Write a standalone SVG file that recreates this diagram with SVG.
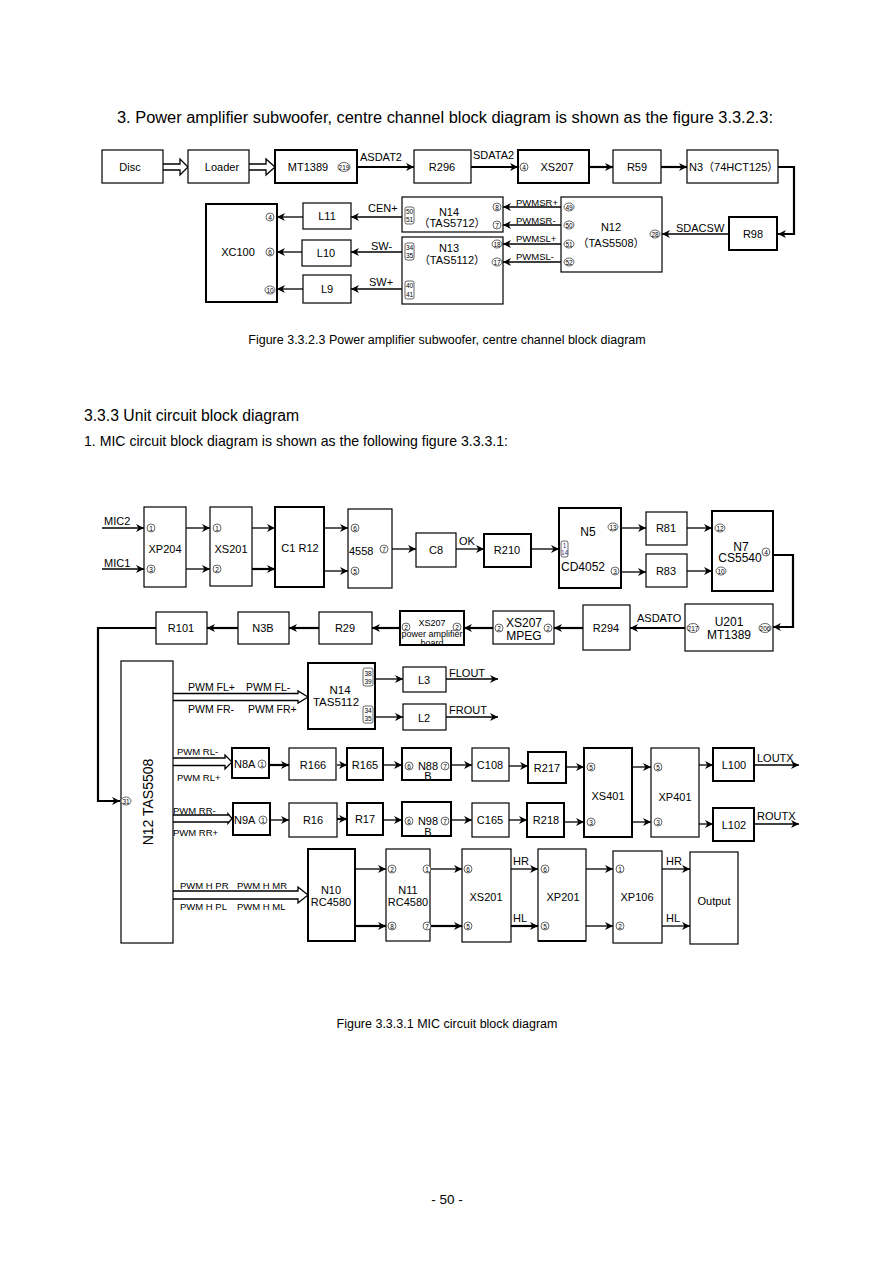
<svg xmlns="http://www.w3.org/2000/svg" width="894" height="1263" viewBox="0 0 894 1263">
<defs>
<style>
text{font-family:"Liberation Sans",Arial,"Noto Sans CJK SC",sans-serif;fill:#000}
.t{font-size:11px;text-anchor:middle}
.l{font-size:11px}
.s{font-size:9.5px}
.b{fill:#fff;stroke:#000;stroke-width:1.2}
.bt{fill:#fff;stroke:#000;stroke-width:2}
.c path,.c line{fill:none;stroke:#000;stroke-width:1.3}
.c .k{stroke-width:2.2}
.h{fill:#fff;stroke:#000;stroke-width:1.1}
.pin ellipse,.pb{fill:#fff;stroke:#000;stroke-width:0.6}
.pin text{font-size:6.5px;text-anchor:middle}
</style>
<marker id="a" viewBox="0 0 10 10" refX="10" refY="5" markerWidth="10" markerHeight="8" markerUnits="userSpaceOnUse" orient="auto"><path d="M0,0 L10,5 L0,10 L3,5 Z" fill="#000"/></marker>
</defs>
<rect width="894" height="1263" fill="#fff"/>

<text x="117" y="123" style="font-size:16px" textLength="656" lengthAdjust="spacingAndGlyphs">3. Power amplifier subwoofer, centre channel block diagram is shown as the figure 3.3.2.3:</text>

<!-- TOP connectors -->
<g class="c" id="top-connectors">
<path class="h" d="M163,164 H180 V159 L188,167 L180,175 V170 H163"/>
<path class="h" d="M249,164 H266 V159 L275,167 L266,175 V170 H249"/>
<line class="k" x1="357" y1="167" x2="414" y2="167" marker-end="url(#a)"/>
<line class="k" x1="471" y1="167" x2="518" y2="167" marker-end="url(#a)"/>
<line class="k" x1="589" y1="167" x2="613" y2="167" marker-end="url(#a)"/>
<line class="k" x1="661" y1="167" x2="687" y2="167" marker-end="url(#a)"/>
<path class="k" d="M778,167 H794 V234 H778" marker-end="url(#a)"/>
<line x1="729" y1="234" x2="662" y2="234" marker-end="url(#a)"/>
<line x1="561" y1="207" x2="503" y2="207" marker-end="url(#a)"/>
<line x1="561" y1="225" x2="503" y2="225" marker-end="url(#a)"/>
<line x1="561" y1="244" x2="503" y2="244" marker-end="url(#a)"/>
<line x1="561" y1="262" x2="503" y2="262" marker-end="url(#a)"/>
<line x1="402" y1="217" x2="351" y2="217" marker-end="url(#a)"/>
<line x1="402" y1="252" x2="351" y2="252" marker-end="url(#a)"/>
<line x1="402" y1="289" x2="351" y2="289" marker-end="url(#a)"/>
<line x1="303" y1="217" x2="277" y2="217" marker-end="url(#a)"/>
<line x1="302" y1="252" x2="277" y2="252" marker-end="url(#a)"/>
<line x1="303" y1="289" x2="277" y2="289" marker-end="url(#a)"/>
<text class="l" x="360" y="161">ASDAT2</text>
<text class="l" x="473" y="159">SDATA2</text>
<text class="l" x="676" y="232">SDACSW</text>
<text class="s" x="516" y="205.5">PWMSR+</text>
<text class="s" x="516" y="223.5">PWMSR-</text>
<text class="s" x="516" y="241.5">PWMSL+</text>
<text class="s" x="516" y="260">PWMSL-</text>
<text class="l" x="368" y="212">CEN+</text>
<text class="l" x="371" y="250">SW-</text>
<text class="l" x="369" y="286">SW+</text>
</g>

<g id="disc"><rect class="b" x="102" y="150" width="61" height="33"/><text class="t" x="130" y="171">Disc</text></g>
<g id="loader"><rect class="b" x="188" y="150" width="61" height="33"/><text class="t" x="222" y="171">Loader</text></g>
<g id="mt1389"><rect class="bt" x="275" y="150" width="82" height="33"/><text class="t" x="308" y="171">MT1389</text>
<g class="pin"><ellipse cx="344" cy="167" rx="6" ry="4.5"/><text x="344" y="169.5">219</text></g></g>
<g id="r296"><rect class="b" x="414" y="150" width="57" height="33"/><text class="t" x="442" y="171">R296</text></g>
<g id="xs207"><rect class="bt" x="518" y="150" width="71" height="33"/><text class="t" x="557" y="171">XS207</text>
<g class="pin"><ellipse cx="524" cy="167" rx="4" ry="4"/><text x="524" y="169.5">4</text></g></g>
<g id="r59"><rect class="b" x="613" y="150" width="48" height="33"/><text class="t" x="637" y="171">R59</text></g>
<g id="n3"><rect class="b" x="687" y="150" width="91" height="33"/><text class="l" x="689" y="171">N3（74HCT125）</text></g>
<g id="r98"><rect class="bt" x="729" y="217" width="48" height="33"/><text class="t" x="753" y="238">R98</text></g>
<g id="n12top"><rect class="b" x="561" y="197" width="101" height="75"/>
<text class="t" x="611" y="231">N12</text><text class="t" x="611" y="247">（TAS5508）</text>
<g class="pin"><ellipse cx="569" cy="207" rx="5" ry="4"/><text x="569" y="209.5">49</text></g>
<g class="pin"><ellipse cx="569" cy="225" rx="5" ry="4"/><text x="569" y="227.5">50</text></g>
<g class="pin"><ellipse cx="569" cy="244" rx="5" ry="4"/><text x="569" y="246.5">51</text></g>
<g class="pin"><ellipse cx="569" cy="262" rx="5" ry="4"/><text x="569" y="264.5">52</text></g>
<g class="pin"><ellipse cx="655" cy="234" rx="5" ry="4"/><text x="655" y="236.5">28</text></g></g>
<g id="n14top"><rect class="b" x="402" y="197" width="101" height="35"/>
<text class="t" x="449" y="215.5">N14</text><text class="t" x="452" y="227">（TAS5712）</text>
<g class="pin"><rect class="pb" x="405" y="207" width="9" height="17" rx="2"/><text x="409.5" y="214">50</text><text x="409.5" y="222">51</text></g>
<g class="pin"><ellipse cx="497" cy="207" rx="4" ry="4"/><text x="497" y="209.5">8</text></g>
<g class="pin"><ellipse cx="497" cy="225" rx="4" ry="4"/><text x="497" y="227.5">7</text></g></g>
<g id="n13top"><rect class="b" x="402" y="237" width="101" height="67"/>
<text class="t" x="449" y="252">N13</text><text class="t" x="452" y="263.5">（TAS5112）</text>
<g class="pin"><rect class="pb" x="405" y="243" width="9" height="17" rx="2"/><text x="409.5" y="250">34</text><text x="409.5" y="258">35</text></g>
<g class="pin"><rect class="pb" x="405" y="281" width="9" height="18" rx="2"/><text x="409.5" y="288">40</text><text x="409.5" y="296.5">41</text></g>
<g class="pin"><ellipse cx="497" cy="244" rx="5" ry="4"/><text x="497" y="246.5">18</text></g>
<g class="pin"><ellipse cx="497" cy="262" rx="5" ry="4"/><text x="497" y="264.5">17</text></g></g>
<g id="l11"><rect class="b" x="303" y="203" width="48" height="26"/><text class="t" x="327" y="220">L11</text></g>
<g id="l10"><rect class="b" x="302" y="240" width="49" height="26"/><text class="t" x="326" y="257">L10</text></g>
<g id="l9"><rect class="b" x="303" y="275" width="48" height="28"/><text class="t" x="327" y="293">L9</text></g>
<g id="xc100"><rect class="bt" x="206" y="204" width="71" height="98"/><text class="t" x="238" y="256">XC100</text>
<g class="pin"><ellipse cx="270" cy="217" rx="4" ry="4"/><text x="270" y="219.5">4</text></g>
<g class="pin"><ellipse cx="270" cy="252" rx="4" ry="4"/><text x="270" y="254.5">6</text></g>
<g class="pin"><ellipse cx="270" cy="290" rx="5" ry="4"/><text x="270" y="292.5">10</text></g></g>

<text x="447" y="343.5" style="font-size:12.5px;text-anchor:middle">Figure 3.3.2.3 Power amplifier subwoofer, centre channel block diagram</text>
<text x="84" y="421" style="font-size:16px" textLength="215" lengthAdjust="spacingAndGlyphs">3.3.3 Unit circuit block diagram</text>
<text x="84" y="446" style="font-size:15px" textLength="424" lengthAdjust="spacingAndGlyphs">1. MIC circuit block diagram is shown as the following figure 3.3.3.1:</text>

<!-- BOTTOM connectors -->
<g class="c" id="connectors">
<line x1="102" y1="528" x2="144" y2="528" marker-end="url(#a)"/>
<line x1="102" y1="569" x2="144" y2="569" marker-end="url(#a)"/>
<line x1="186" y1="528" x2="210" y2="528" marker-end="url(#a)"/>
<line x1="186" y1="569" x2="210" y2="569" marker-end="url(#a)"/>
<line x1="252" y1="528" x2="275" y2="528" marker-end="url(#a)"/>
<line class="k" x1="252" y1="569" x2="275" y2="569" marker-end="url(#a)"/>
<line x1="324" y1="528" x2="348" y2="528" marker-end="url(#a)"/>
<line x1="324" y1="571" x2="348" y2="571" marker-end="url(#a)"/>
<line x1="392" y1="549" x2="416" y2="549" marker-end="url(#a)"/>
<line x1="456" y1="549" x2="484" y2="549" marker-end="url(#a)"/>
<line x1="531" y1="549" x2="559" y2="549" marker-end="url(#a)"/>
<line x1="621" y1="528" x2="646" y2="528" marker-end="url(#a)"/>
<line x1="621" y1="572" x2="646" y2="572" marker-end="url(#a)"/>
<line x1="687" y1="528" x2="712" y2="528" marker-end="url(#a)"/>
<line x1="687" y1="571" x2="712" y2="571" marker-end="url(#a)"/>
<path class="k" d="M773,555 H793 V627 H773" marker-end="url(#a)"/>
<line class="k" x1="685" y1="628" x2="630" y2="628" marker-end="url(#a)"/>
<line class="k" x1="583" y1="628" x2="554" y2="628" marker-end="url(#a)"/>
<line class="k" x1="493" y1="628" x2="464" y2="628" marker-end="url(#a)"/>
<line class="k" x1="400" y1="628" x2="372" y2="628" marker-end="url(#a)"/>
<line class="k" x1="319" y1="628" x2="289" y2="628" marker-end="url(#a)"/>
<line class="k" x1="238" y1="628" x2="207" y2="628" marker-end="url(#a)"/>
<path class="k" d="M156,628 H98 V801 H120" marker-end="url(#a)"/>
<path class="h" d="M173,693.5 H298 V691 L308,697 L298,703 V700.5 H173"/>
<line x1="375" y1="679" x2="403" y2="679" marker-end="url(#a)"/>
<line x1="375" y1="717" x2="403" y2="717" marker-end="url(#a)"/>
<line x1="446" y1="679" x2="498" y2="679" marker-end="url(#a)"/>
<line x1="446" y1="717" x2="498" y2="717" marker-end="url(#a)"/>
<path class="h" d="M173,758 H225 V755 L232,762 L225,769 V765.5 H173"/>
<line class="k" x1="269" y1="765" x2="289" y2="765" marker-end="url(#a)"/>
<line x1="337" y1="765" x2="347" y2="765" marker-end="url(#a)"/>
<line x1="383" y1="765" x2="402" y2="765" marker-end="url(#a)"/>
<line x1="451" y1="765" x2="472" y2="765" marker-end="url(#a)"/>
<line x1="509" y1="766" x2="528" y2="766" marker-end="url(#a)"/>
<line x1="566" y1="767" x2="584" y2="767" marker-end="url(#a)"/>
<line x1="632" y1="767" x2="651" y2="767" marker-end="url(#a)"/>
<line x1="632" y1="822" x2="651" y2="822" marker-end="url(#a)"/>
<line x1="699" y1="765" x2="713" y2="765" marker-end="url(#a)"/>
<line x1="699" y1="824" x2="713" y2="824" marker-end="url(#a)"/>
<line x1="754" y1="765" x2="799" y2="765" marker-end="url(#a)"/>
<line x1="754" y1="824" x2="799" y2="824" marker-end="url(#a)"/>
<path class="h" d="M173,815 H228 V813.5 L232,818.5 L228,823.5 V822 H173"/>
<line x1="270" y1="820" x2="289" y2="820" marker-end="url(#a)"/>
<line class="k" x1="337" y1="819" x2="347" y2="819" marker-end="url(#a)"/>
<line x1="383" y1="820" x2="402" y2="820" marker-end="url(#a)"/>
<line x1="451" y1="820" x2="472" y2="820" marker-end="url(#a)"/>
<line x1="509" y1="820" x2="527" y2="820" marker-end="url(#a)"/>
<line x1="564" y1="822" x2="584" y2="822" marker-end="url(#a)"/>
<path class="h" d="M173,891 H298 V887 L308,895 L298,903 V899 H173"/>
<line x1="355" y1="869" x2="386" y2="869" marker-end="url(#a)"/>
<line class="k" x1="355" y1="926" x2="386" y2="926" marker-end="url(#a)"/>
<line x1="430" y1="869" x2="462" y2="869" marker-end="url(#a)"/>
<line class="k" x1="430" y1="926" x2="462" y2="926" marker-end="url(#a)"/>
<line x1="511" y1="869" x2="538" y2="869" marker-end="url(#a)"/>
<line class="k" x1="511" y1="926" x2="538" y2="926" marker-end="url(#a)"/>
<line x1="586" y1="869" x2="613" y2="869" marker-end="url(#a)"/>
<line x1="586" y1="926" x2="613" y2="926" marker-end="url(#a)"/>
<line x1="662" y1="869" x2="690" y2="869" marker-end="url(#a)"/>
<line x1="662" y1="926" x2="690" y2="926" marker-end="url(#a)"/>
<text class="l" x="104" y="525">MIC2</text>
<text class="l" x="104" y="566.5">MIC1</text>
<text class="l" x="459" y="544.5">OK</text>
<text class="l" x="637" y="622">ASDATO</text>
<text style="font-size:10.5px" x="188" y="691">PWM FL+</text>
<text style="font-size:10.5px" x="246" y="691">PWM FL-</text>
<text style="font-size:10.5px" x="188" y="712.5">PWM FR-</text>
<text style="font-size:10.5px" x="248" y="712.5">PWM FR+</text>
<text class="l" x="449" y="677">FLOUT</text>
<text class="l" x="449" y="714">FROUT</text>
<text class="s" x="177" y="755">PWM RL-</text>
<text class="s" x="177" y="781">PWM RL+</text>
<text class="s" x="173" y="813.5">PWM RR-</text>
<text class="s" x="173" y="836">PWM RR+</text>
<text class="l" x="757" y="762">LOUTX</text>
<text class="l" x="757" y="820">ROUTX</text>
<text class="s" x="180" y="889">PWM H PR</text>
<text class="s" x="237" y="889">PWM H MR</text>
<text class="s" x="180" y="910">PWM H PL</text>
<text class="s" x="237" y="910">PWM H ML</text>
<text class="l" x="513" y="865">HR</text>
<text class="l" x="513" y="921.5">HL</text>
<text class="l" x="666" y="865">HR</text>
<text class="l" x="666" y="921.5">HL</text>
</g>

<g id="xp204"><rect class="b" x="144" y="507" width="42" height="80"/><text class="t" x="165" y="553">XP204</text>
<g class="pin"><ellipse cx="151" cy="528" rx="4" ry="4"/><text x="151" y="530.5">1</text></g>
<g class="pin"><ellipse cx="151" cy="569" rx="4" ry="4"/><text x="151" y="571.5">3</text></g></g>
<g id="xs201a"><rect class="b" x="210" y="507" width="42" height="79"/><text class="t" x="231" y="553">XS201</text>
<g class="pin"><ellipse cx="217" cy="528" rx="4" ry="4"/><text x="217" y="530.5">1</text></g>
<g class="pin"><ellipse cx="217" cy="569" rx="4" ry="4"/><text x="217" y="571.5">2</text></g></g>
<g id="c1r12"><rect class="bt" x="275" y="507" width="49" height="80"/><text class="t" x="300" y="552">C1 R12</text></g>
<g id="u4558"><rect class="b" x="348" y="509" width="44" height="79"/><text class="l" x="349" y="554.5">4558</text>
<g class="pin"><ellipse cx="355" cy="528" rx="4" ry="4"/><text x="355" y="530.5">6</text></g>
<g class="pin"><ellipse cx="355" cy="571" rx="4" ry="4"/><text x="355" y="573.5">5</text></g>
<g class="pin"><ellipse cx="384" cy="549" rx="4" ry="4"/><text x="384" y="551.5">7</text></g></g>
<g id="c8"><rect class="b" x="416" y="533" width="40" height="34"/><text class="t" x="436" y="553.5">C8</text></g>
<g id="r210"><rect class="bt" x="484" y="534" width="47" height="33"/><text class="t" x="507" y="554">R210</text></g>
<g id="n5"><rect class="bt" x="559" y="508" width="62" height="80"/>
<text class="t" x="588" y="535.5" style="font-size:12px">N5</text><text class="t" x="583" y="571" style="font-size:12px">CD4052</text>
<g class="pin"><rect class="pb" x="561" y="541" width="7" height="16" rx="2"/><text x="564.5" y="547.5" style="fill:#33338a">1</text><text x="564.5" y="555" style="fill:#33338a">14</text></g>
<g class="pin"><ellipse cx="613" cy="527" rx="5" ry="4"/><text x="613" y="529.5">13</text></g>
<g class="pin"><ellipse cx="615" cy="571" rx="4" ry="4"/><text x="615" y="573.5">3</text></g></g>
<g id="r81"><rect class="b" x="646" y="512" width="41" height="33"/><text class="t" x="666" y="532">R81</text></g>
<g id="r83"><rect class="b" x="646" y="554" width="41" height="33"/><text class="t" x="666" y="575">R83</text></g>
<g id="n7"><rect class="bt" x="712" y="511" width="61" height="80"/>
<text class="t" x="741" y="550.5" style="font-size:12px">N7</text><text class="t" x="740" y="562" style="font-size:12px">CS5540</text>
<g class="pin"><ellipse cx="720" cy="528" rx="5" ry="4"/><text x="720" y="530.5">12</text></g>
<g class="pin"><ellipse cx="721" cy="571" rx="5" ry="4"/><text x="721" y="573.5">10</text></g>
<g class="pin"><ellipse cx="766" cy="552" rx="4" ry="4"/><text x="766" y="554.5">4</text></g></g>
<g id="u201"><rect class="b" x="685" y="604" width="88" height="47"/>
<text class="t" x="729" y="626" style="font-size:12px">U201</text><text class="t" x="729" y="639" style="font-size:12px">MT1389</text>
<g class="pin"><ellipse cx="693" cy="628" rx="6" ry="4.5"/><text x="693" y="630.5">217</text></g>
<g class="pin"><ellipse cx="765" cy="628" rx="6" ry="4.5"/><text x="765" y="630.5">206</text></g></g>
<g id="r294"><rect class="b" x="583" y="605" width="47" height="45"/><text class="t" x="606" y="632">R294</text></g>
<g id="xs207mpeg"><rect class="b" x="493" y="611" width="61" height="33"/>
<text class="t" x="524" y="627" style="font-size:12px">XS207</text><text class="t" x="524" y="639.5" style="font-size:12px">MPEG</text>
<g class="pin"><ellipse cx="499" cy="628" rx="4" ry="4"/><text x="499" y="630.5">2</text></g>
<g class="pin"><ellipse cx="548" cy="628" rx="4" ry="4"/><text x="548" y="630.5">2</text></g></g>
<g id="xs207pa"><rect class="bt" x="400" y="611" width="64" height="34"/>
<text class="t" x="432" y="625.5" style="font-size:9px">XS207</text><text class="t" x="432" y="636.5" style="font-size:9px">power amplifier</text><text class="t" x="432" y="645.5" style="font-size:9px">board</text>
<g class="pin"><ellipse cx="406" cy="627" rx="4" ry="4"/><text x="406" y="629.5">2</text></g>
<g class="pin"><ellipse cx="457" cy="627" rx="4" ry="4"/><text x="457" y="629.5">2</text></g></g>
<g id="r29"><rect class="b" x="319" y="612" width="53" height="32"/><text class="t" x="345" y="632">R29</text></g>
<g id="n3b"><rect class="b" x="238" y="612" width="51" height="32"/><text class="t" x="263" y="632">N3B</text></g>
<g id="r101"><rect class="b" x="156" y="612" width="51" height="32"/><text class="t" x="181" y="632">R101</text></g>
<g id="n12"><rect class="b" x="121" y="661" width="52" height="282"/>
<text x="0" y="0" transform="translate(153,802) rotate(-90)" style="font-size:14px;text-anchor:middle">N12  TAS5508</text>
<g class="pin"><ellipse cx="126" cy="801" rx="5" ry="4"/><text x="126" y="803.5">31</text></g></g>
<g id="n14"><rect class="bt" x="308" y="663" width="67" height="66"/>
<text class="t" x="340" y="694" style="font-size:11.5px">N14</text><text class="t" x="336" y="705.5" style="font-size:11.5px">TAS5112</text>
<g class="pin"><rect class="pb" x="363" y="668" width="10" height="18" rx="2"/><text x="368" y="675.5">38</text><text x="368" y="683.5">39</text></g>
<g class="pin"><rect class="pb" x="363" y="706" width="10" height="17" rx="2"/><text x="368" y="713">34</text><text x="368" y="721">35</text></g></g>
<g id="l3"><rect class="b" x="403" y="667" width="43" height="25"/><text class="t" x="424" y="683.5">L3</text></g>
<g id="l2"><rect class="b" x="403" y="704" width="43" height="26"/><text class="t" x="424" y="721.5">L2</text></g>
<g id="n8a"><rect class="bt" x="232" y="748" width="37" height="30"/><text class="l" x="234" y="768">N8A</text>
<g class="pin"><ellipse cx="262" cy="764" rx="4" ry="4"/><text x="262" y="766.5">1</text></g></g>
<g id="r166"><rect class="b" x="289" y="748" width="47" height="32"/><text class="t" x="313" y="769">R166</text></g>
<g id="r165"><rect class="bt" x="347" y="748" width="36" height="32"/><text class="t" x="365" y="769">R165</text></g>
<g id="n88b"><rect class="bt" x="402" y="748" width="49" height="32"/>
<text class="t" x="428" y="769.5">N88</text><text class="t" x="428" y="780">B</text>
<g class="pin"><ellipse cx="409" cy="766" rx="4" ry="4"/><text x="409" y="768.5">6</text></g>
<g class="pin"><ellipse cx="445" cy="766" rx="4" ry="4"/><text x="445" y="768.5">7</text></g></g>
<g id="c108"><rect class="b" x="472" y="748" width="37" height="33"/><text class="t" x="490" y="769">C108</text></g>
<g id="r217"><rect class="bt" x="528" y="752" width="38" height="31"/><text class="t" x="547" y="772">R217</text></g>
<g id="xs401"><rect class="bt" x="584" y="748" width="48" height="89"/><text class="t" x="608" y="800">XS401</text>
<g class="pin"><ellipse cx="591" cy="767" rx="4" ry="4"/><text x="591" y="769.5">5</text></g>
<g class="pin"><ellipse cx="591" cy="822" rx="4" ry="4"/><text x="591" y="824.5">3</text></g></g>
<g id="xp401"><rect class="b" x="651" y="748" width="48" height="89"/><text class="t" x="675" y="801">XP401</text>
<g class="pin"><ellipse cx="658" cy="767" rx="4" ry="4"/><text x="658" y="769.5">5</text></g>
<g class="pin"><ellipse cx="658" cy="822" rx="4" ry="4"/><text x="658" y="824.5">3</text></g></g>
<g id="l100"><rect class="bt" x="713" y="748" width="41" height="33"/><text class="t" x="734" y="769">L100</text></g>
<g id="l102"><rect class="bt" x="713" y="808" width="41" height="33"/><text class="t" x="734" y="829">L102</text></g>
<g id="n9a"><rect class="bt" x="233" y="803" width="37" height="32"/><text class="l" x="234" y="824">N9A</text>
<g class="pin"><ellipse cx="263" cy="820" rx="4" ry="4"/><text x="263" y="822.5">1</text></g></g>
<g id="r16"><rect class="b" x="289" y="803" width="48" height="34"/><text class="t" x="313" y="824">R16</text></g>
<g id="r17"><rect class="bt" x="347" y="803" width="36" height="32"/><text class="t" x="365" y="823">R17</text></g>
<g id="n98b"><rect class="bt" x="402" y="802" width="49" height="34"/>
<text class="t" x="428" y="825">N98</text><text class="t" x="428" y="835.5">B</text>
<g class="pin"><ellipse cx="409" cy="821" rx="4" ry="4"/><text x="409" y="823.5">6</text></g>
<g class="pin"><ellipse cx="445" cy="821" rx="4" ry="4"/><text x="445" y="823.5">7</text></g></g>
<g id="c165"><rect class="b" x="472" y="803" width="37" height="34"/><text class="t" x="490" y="824">C165</text></g>
<g id="r218"><rect class="bt" x="527" y="803" width="37" height="34"/><text class="t" x="546" y="824">R218</text></g>
<g id="n10"><rect class="bt" x="308" y="849" width="47" height="92"/>
<text class="t" x="331" y="894">N10</text><text class="t" x="331" y="906">RC4580</text></g>
<g id="n11"><rect class="b" x="386" y="849" width="44" height="92"/>
<text class="t" x="408" y="894">N11</text><text class="t" x="408" y="906">RC4580</text>
<g class="pin"><ellipse cx="392" cy="869" rx="4" ry="4"/><text x="392" y="871.5">2</text></g>
<g class="pin"><ellipse cx="392" cy="926" rx="4" ry="4"/><text x="392" y="928.5">8</text></g>
<g class="pin"><ellipse cx="427" cy="869" rx="4" ry="4"/><text x="427" y="871.5">1</text></g>
<g class="pin"><ellipse cx="427" cy="926" rx="4" ry="4"/><text x="427" y="928.5">7</text></g></g>
<g id="xs201b"><rect class="b" x="462" y="849" width="49" height="93"/><text class="t" x="486" y="901">XS201</text>
<g class="pin"><ellipse cx="468" cy="869" rx="4" ry="4"/><text x="468" y="871.5">6</text></g>
<g class="pin"><ellipse cx="468" cy="926" rx="4" ry="4"/><text x="468" y="928.5">5</text></g></g>
<g id="xp201"><rect class="b" x="538" y="849" width="48" height="92"/><line x1="538" y1="941" x2="586" y2="941" stroke="#000" stroke-width="2.2"/><text class="t" x="563" y="901">XP201</text>
<g class="pin"><ellipse cx="545" cy="869" rx="4" ry="4"/><text x="545" y="871.5">6</text></g>
<g class="pin"><ellipse cx="545" cy="926" rx="4" ry="4"/><text x="545" y="928.5">5</text></g></g>
<g id="xp106"><rect class="b" x="613" y="851" width="49" height="92"/><text class="t" x="637" y="901">XP106</text>
<g class="pin"><ellipse cx="620" cy="869" rx="4" ry="4"/><text x="620" y="871.5">1</text></g>
<g class="pin"><ellipse cx="620" cy="926" rx="4" ry="4"/><text x="620" y="928.5">2</text></g></g>
<g id="output"><rect class="b" x="690" y="852" width="48" height="92"/><text class="t" x="714" y="905">Output</text></g>

<text x="447" y="1027.5" style="font-size:12.5px;text-anchor:middle">Figure 3.3.3.1 MIC circuit block diagram</text>
<text x="447" y="1203.5" style="font-size:13.5px;text-anchor:middle">- 50 -</text>
</svg>
